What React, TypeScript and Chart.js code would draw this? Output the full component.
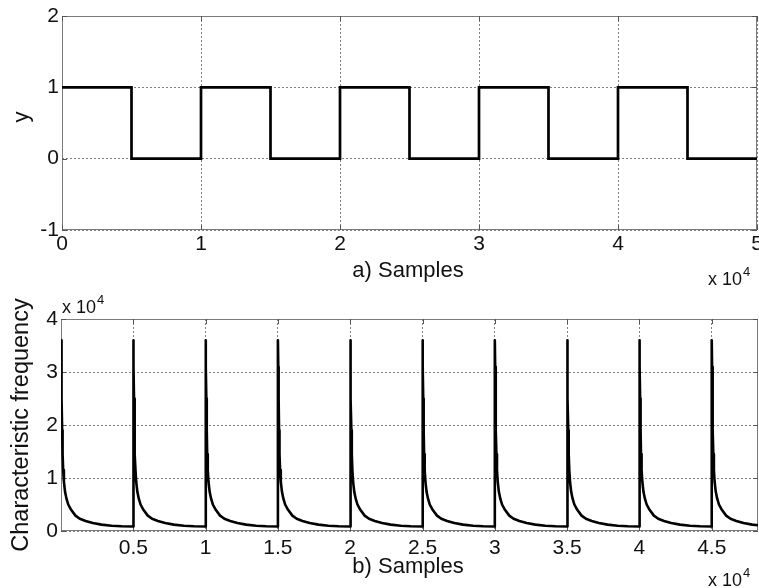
import React, { useEffect, useRef } from 'react';
import { Chart, registerables } from 'chart.js';

Chart.register(...registerables);

// ---- data ----
// a) square wave
const squareX = [0, 5000, 10000, 15000, 20000, 25000, 30000, 35000, 40000, 45000, 50000];
const squareY = [1, 0, 1, 0, 1, 0, 1, 0, 1, 0, 0];
const topXTicks = [0, 10000, 20000, 30000, 40000, 50000];
const topYTicks = [-1, 0, 1, 2];

// b) characteristic frequency: one decay period (offset from spike, value), repeated at each period start
const periodStarts = [0, 5000, 10000, 15000, 20000, 25000, 30000, 35000, 40000, 45000];
const decayOffsets = [0, 25, 50, 80, 110, 150, 200, 280, 380, 500, 700, 1000, 1300, 1700, 2200, 2800, 3500, 4200, 4999];
const decayValues = [36000, 31000, 25000, 19000, 14500, 11500, 9300, 7400, 6100, 5000, 4000, 2900, 2300, 1900, 1500, 1200, 1000, 900, 850];
const bottomXTicks = [5000, 10000, 15000, 20000, 25000, 30000, 35000, 40000, 45000];
const bottomYTicks = [0, 10000, 20000, 30000, 40000];

const FONT = "'Liberation Sans', Arial, Helvetica, sans-serif";
const GRID = '#808080';
const BOX = '#7a7a7a';
const TEXT = '#111';
const W = 759;
const H = 588;

type TextItem = { text: string; x: number; y: number; size: number; rotate?: boolean; align?: CanvasTextAlign };

function drawExp(ctx: CanvasRenderingContext2D, x: number, y: number) {
  ctx.font = `18px ${FONT}`;
  ctx.textAlign = 'left';
  ctx.textBaseline = 'alphabetic';
  ctx.fillText('x 10', x, y);
  const w = ctx.measureText('x 10').width;
  ctx.font = `13px ${FONT}`;
  ctx.fillText('4', x + w + 1, y - 9);
}

function makePlugin(texts: TextItem[], exps: [number, number][], xTickVals: number[], yTickVals: number[]) {
  return {
    id: 'matlabBox',
    beforeDatasetsDraw(chart: any) {
      const { ctx, chartArea: a, scales } = chart;
      ctx.save();
      ctx.strokeStyle = BOX;
      ctx.lineWidth = 1;
      ctx.setLineDash([]);
      ctx.strokeRect(a.left + 0.5, a.top + 0.5, a.right - a.left - 1, a.bottom - a.top - 1);
      ctx.strokeStyle = '#555';
      ctx.beginPath();
      const tl = 5;
      xTickVals.forEach((v) => {
        const px = Math.round(scales.x.getPixelForValue(v)) + 0.5;
        ctx.moveTo(px, a.bottom);
        ctx.lineTo(px, a.bottom - tl);
        ctx.moveTo(px, a.top);
        ctx.lineTo(px, a.top + tl);
      });
      yTickVals.forEach((v) => {
        const py = Math.round(scales.y.getPixelForValue(v)) + 0.5;
        ctx.moveTo(a.left, py);
        ctx.lineTo(a.left + tl, py);
        ctx.moveTo(a.right, py);
        ctx.lineTo(a.right - tl, py);
      });
      ctx.stroke();
      ctx.restore();
    },
    afterDraw(chart: any) {
      const ctx: CanvasRenderingContext2D = chart.ctx;
      ctx.save();
      ctx.fillStyle = TEXT;
      texts.forEach((t) => {
        ctx.font = `${t.size}px ${FONT}`;
        ctx.textAlign = t.align || 'center';
        ctx.textBaseline = 'alphabetic';
        if (t.rotate) {
          ctx.save();
          ctx.translate(t.x, t.y);
          ctx.rotate(-Math.PI / 2);
          ctx.fillText(t.text, 0, 0);
          ctx.restore();
        } else {
          ctx.fillText(t.text, t.x, t.y);
        }
      });
      exps.forEach(([x, y]) => drawExp(ctx, x, y));
      ctx.restore();
    },
  };
}

function axis(min: number, max: number, tickVals: number[], opts: { fit: (s: any) => void; padding: number; label: (v: number) => string }) {
  return {
    type: 'linear' as const,
    min,
    max,
    afterBuildTicks: (s: any) => {
      s.ticks = tickVals.map((v) => ({ value: v }));
    },
    afterFit: opts.fit,
    ticks: {
      callback: (v: any) => opts.label(Number(v)),
      font: { family: FONT, size: 21 },
      color: TEXT,
      padding: opts.padding,
      autoSkip: false,
      maxRotation: 0,
      minRotation: 0,
    },
    grid: { color: GRID, lineWidth: 1, drawTicks: false },
    border: { display: false, dash: [2, 2] },
  };
}

export default function App() {
  const topRef = useRef<HTMLCanvasElement>(null);
  const botRef = useRef<HTMLCanvasElement>(null);

  useEffect(() => {
    const topData = squareX.map((x, i) => ({ x, y: squareY[i] }));
    const botData: { x: number; y: number }[] = [];
    periodStarts.forEach((s) => {
      decayOffsets.forEach((o, j) => botData.push({ x: s + o, y: decayValues[j] }));
    });

    const fmt = (v: number) => String(Math.round(v / 1000) / 10);

    const c1 = new Chart(topRef.current as HTMLCanvasElement, {
      type: 'line',
      data: {
        datasets: [
          {
            data: topData,
            borderColor: '#000',
            borderWidth: 2.7,
            pointRadius: 0,
            stepped: true,
            fill: false,
            borderJoinStyle: 'miter',
          } as any,
        ],
      },
      options: {
        responsive: false,
        animation: false,
        events: [],
        layout: { padding: { top: 16, left: 0, right: 2, bottom: 0 } },
        plugins: { legend: { display: false }, tooltip: { enabled: false } },
        scales: {
          x: axis(0, 50000, topXTicks, {
            fit: (s) => {
              s.height = H - 230;
              s.paddingLeft = 0;
              s.paddingRight = 0;
            },
            padding: 2,
            label: fmt,
          }),
          y: axis(-1, 2, topYTicks, {
            fit: (s) => {
              s.width = 62;
              s.paddingTop = 0;
              s.paddingBottom = 0;
            },
            padding: 3,
            label: (v) => String(v),
          }),
        } as any,
      },
      plugins: [
        makePlugin(
          [
            { text: 'y', x: 28, y: 117, size: 22, rotate: true },
            { text: 'a) Samples', x: 408, y: 277, size: 22 },
          ],
          [[708, 285]],
          topXTicks,
          topYTicks
        ) as any,
      ],
    });

    const c2 = new Chart(botRef.current as HTMLCanvasElement, {
      type: 'line',
      data: {
        datasets: [
          {
            data: botData,
            borderColor: '#000',
            borderWidth: 2.6,
            pointRadius: 0,
            fill: false,
            tension: 0,
            borderJoinStyle: 'round',
          } as any,
        ],
      },
      options: {
        responsive: false,
        animation: false,
        events: [],
        layout: { padding: { top: 319, left: 0, right: 1, bottom: 0 } },
        plugins: { legend: { display: false }, tooltip: { enabled: false } },
        scales: {
          x: axis(0, 48200, bottomXTicks, {
            fit: (s) => {
              s.height = H - 531;
              s.paddingLeft = 0;
              s.paddingRight = 0;
            },
            padding: 5,
            label: fmt,
          }),
          y: axis(0, 40000, bottomYTicks, {
            fit: (s) => {
              s.width = 61;
              s.paddingTop = 0;
              s.paddingBottom = 0;
            },
            padding: 3,
            label: fmt,
          }),
        } as any,
      },
      plugins: [
        makePlugin(
          [
            { text: 'Characteristic frequency', x: 28, y: 425, size: 23.5, rotate: true },
            { text: 'b) Samples', x: 408, y: 573, size: 22 },
          ],
          [
            [62, 313],
            [708, 586],
          ],
          bottomXTicks,
          bottomYTicks
        ) as any,
      ],
    });

    return () => {
      c1.destroy();
      c2.destroy();
    };
  }, []);

  const canvasStyle: React.CSSProperties = { position: 'absolute', left: 0, top: 0, width: W, height: H };
  return (
    <div style={{ position: 'absolute', left: 0, top: 0, width: W, height: H, background: '#fff', overflow: 'hidden' }}>
      <canvas ref={topRef} width={W} height={H} style={canvasStyle} />
      <canvas ref={botRef} width={W} height={H} style={canvasStyle} />
    </div>
  );
}
